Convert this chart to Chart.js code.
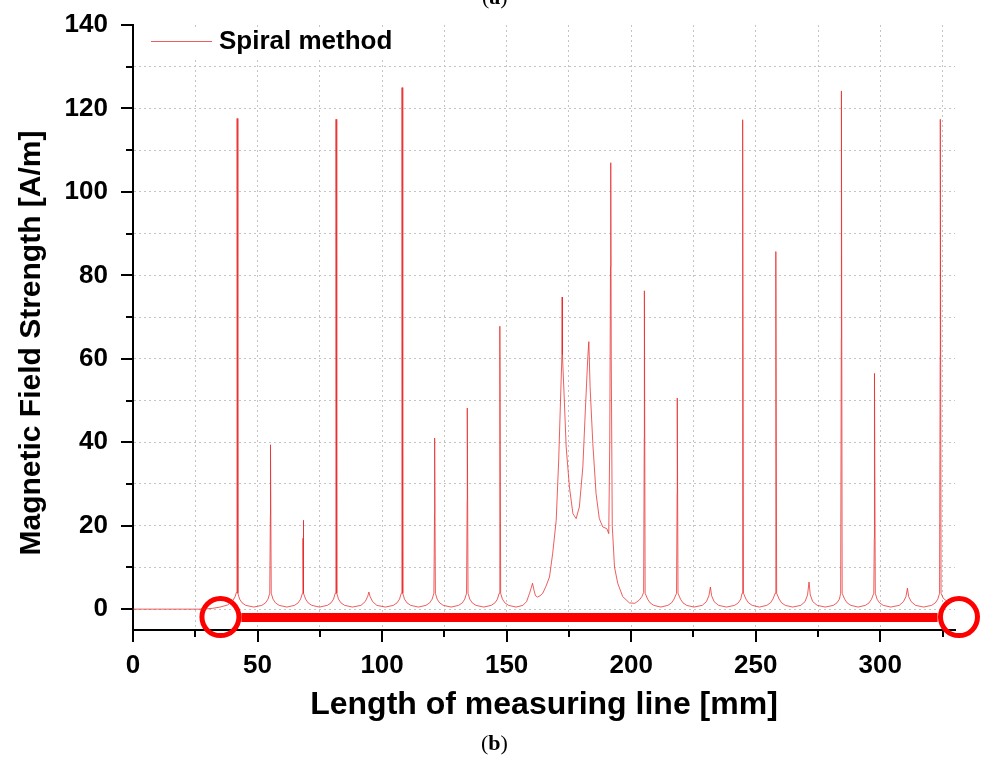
<!DOCTYPE html>
<html lang="en">
<head>
    <meta charset="UTF-8">
    <title>Spiral method - Magnetic Field Strength</title>
    <script src="https://cdn.jsdelivr.net/npm/chart.js"></script>
    <style>
        body { margin: 0; background: #ffffff; }
        .wrap { position: relative; width: 986px; height: 763px; overflow: hidden; }
        .panel { position: absolute; font-family: "Liberation Serif", "DejaVu Serif", serif; font-size: 22px; color: #000; }
        .panel b { font-weight: bold; }
        #panelA { left: 482px; top: -16px; }
        #panelB { left: 481px; top: 730px; }
        #yTitle {
            position: absolute; left: -220px; top: 325px; width: 500px; height: 36px; line-height: 36px;
            text-align: center; transform: rotate(-90deg); transform-origin: 250px 18px;
            font-family: Arial, "Liberation Sans", sans-serif; font-weight: bold; font-size: 30px; color: #000;
            white-space: nowrap;
        }
    </style>
</head>
<body>
    <div class="wrap">
        <canvas id="fieldChart" width="986" height="763"></canvas>
        <div id="yTitle">Magnetic Field Strength [A/m]</div>
        <div id="panelA" class="panel">(<b>a</b>)</div>
        <div id="panelB" class="panel">(<b>b</b>)</div>
    </div>

    <script>
        const lengthMm = [
            0, 10, 20, 28, 32, 35, 38, 40, 41, 41.5,
            41.75, 41.8, 42.1,
            42.8, 43.8, 45.3, 48.5, 51.7, 53.2, 54.2, 54.9,
            55.15, 55.2, 55.5,
            56.2, 57.2, 58.7, 61.8, 64.8, 66.3, 67.3, 68.0,
            68.2, 68.25, 68.3, 68.6,
            69.3, 70.3, 71.8, 74.9, 78.0, 79.5, 80.5, 81.2,
            81.45, 81.5, 81.8,
            82.5, 83.5, 85.0, 88.1, 91.5, 93.2, 94.2, 94.7, 95.2, 96.2, 97.9, 101.3, 104.5, 106.0, 107.0, 107.7,
            107.95, 108.0, 108.3,
            109.0, 110.0, 111.5, 114.6, 117.6, 119.1, 120.1, 120.8,
            121.05, 121.1, 121.4,
            122.1, 123.1, 124.6, 127.7, 130.7, 132.2, 133.2, 133.9,
            134.15, 134.2, 134.5,
            135.2, 136.2, 137.7, 140.8, 143.8, 145.3, 146.3, 147.0,
            147.25, 147.3, 147.6,
            148.3, 149.3, 150.8, 153.8, 156.5, 158.0, 159.2, 159.8, 160.4, 161.0,
            161.6, 162.4, 163.4, 164.5, 165.8, 167.2, 168.5, 169.9, 170.9, 171.6,
            172.2, 172.3, 172.4, 173.2, 173.9, 175.2, 176.6, 177.9, 179.2, 180.6,
            181.6, 182.6, 183.0, 183.5, 184.6, 185.9, 187.2, 188.6, 190.2, 191.0,
            191.4, 191.7, 191.8, 192.0, 192.4,
            193.3, 194.6, 196.6, 199.3, 201.5, 203.3, 204.3, 205.0,
            205.25, 205.3, 205.6,
            206.6, 207.6, 209.1, 211.9, 214.7, 216.2, 217.2, 218.2,
            218.45, 218.5, 218.8,
            219.8, 220.8, 222.3, 225.2, 228.5, 230.2, 231.2, 231.8, 232.3, 233.3, 235.1, 238.3, 241.5, 243.0, 244.0, 244.5,
            244.7, 244.75, 244.78, 244.8, 245.1,
            246.1, 247.1, 248.6, 251.5, 254.4, 255.9, 256.9, 257.8,
            258.05, 258.1, 258.4,
            259.4, 260.4, 261.9, 264.8, 268.1, 269.8, 270.8, 271.4, 271.9, 272.9, 274.7, 277.9, 281.1, 282.6, 283.6, 284.1,
            284.35, 284.4, 284.7,
            285.7, 286.7, 288.2, 291.1, 294.0, 295.5, 296.5, 297.4,
            297.6, 297.65, 297.7, 298.0,
            298.7, 299.7, 301.2, 304.2, 307.6, 309.3, 310.3, 310.9, 311.4, 312.4, 314.2, 317.4, 320.6, 322.1, 323.1, 323.8,
            324.05, 324.1, 324.4,
            325.3, 326.5, 327.8, 328.5
        ];
        const fieldAm = [
            0, 0, 0, 0, 0.2, 0.5, 1.0, 2.0, 3.0, 4.0,
            61.4, 117.6, 3.8,
            2.4, 1.5, 0.9, 0.5, 0.9, 1.5, 2.4, 3.8,
            22.5, 39.4, 3.8,
            2.4, 1.5, 0.9, 0.5, 0.9, 1.5, 2.4, 3.8,
            13.7, 17.0, 21.3, 3.8,
            2.4, 1.5, 0.9, 0.5, 0.9, 1.5, 2.4, 3.8,
            61.4, 117.4, 3.8,
            2.4, 1.5, 0.9, 0.5, 0.9, 1.8, 3.0, 4.1, 3.0, 1.8, 0.9, 0.5, 0.9, 1.5, 2.4, 3.8,
            64.7, 125.0, 3.8,
            2.4, 1.5, 0.9, 0.5, 0.9, 1.5, 2.4, 3.8,
            23.0, 41.0, 3.8,
            2.4, 1.5, 0.9, 0.5, 0.9, 1.5, 2.4, 3.8,
            26.1, 48.2, 3.8,
            2.4, 1.5, 0.9, 0.5, 0.9, 1.5, 2.4, 3.8,
            35.7, 67.8, 3.8,
            2.4, 1.5, 0.9, 0.5, 0.9, 1.8, 3.8, 5.0, 6.2, 4.5,
            3.2, 2.9, 3.2, 3.8, 5.5, 7.7, 13.4, 21.3, 35.7, 49.4,
            61.0, 74.8, 61.0, 49.4, 38.9, 29.3, 22.9, 21.7, 24.5, 34.1,
            47.7, 60.5, 64.1, 53.3, 39.7, 27.7, 21.7, 19.7, 19.3, 18.1,
            40.0, 82.0, 107.0, 60.0, 20.0,
            10.1, 6.2, 3.0, 1.5, 1.4, 2.2, 3.0, 4.0,
            41.0, 76.3, 3.8,
            2.4, 1.5, 0.9, 0.5, 0.9, 1.5, 2.4, 3.8,
            27.8, 50.6, 3.8,
            2.4, 1.5, 0.9, 0.5, 0.9, 1.8, 3.2, 5.3, 3.2, 1.8, 0.9, 0.5, 0.9, 1.5, 2.4, 3.8,
            32.8, 61.4, 89.0, 117.3, 3.8,
            2.4, 1.5, 0.9, 0.5, 0.9, 1.5, 2.4, 3.8,
            44.7, 85.7, 3.8,
            2.4, 1.5, 0.9, 0.5, 0.9, 1.8, 3.4, 6.5, 3.4, 1.8, 0.9, 0.5, 0.9, 1.5, 2.4, 3.8,
            64.7, 124.2, 3.8,
            2.4, 1.5, 0.9, 0.5, 0.9, 1.5, 2.4, 3.8,
            17.0, 43.4, 56.5, 3.8,
            2.4, 1.5, 0.9, 0.5, 0.9, 1.8, 3.0, 5.0, 3.0, 1.8, 0.9, 0.5, 0.9, 1.5, 2.4, 3.8,
            60.7, 117.4, 3.8,
            2.6, 2.0, 1.8, 1.8
        ];

        // red markup under the curve: bar between two rings
        const markLineX = [43.5, 323];
        const markLineY = [-2, -2];
        const markRingX = [35.1, 331.6];
        const markRingY = [-1.9, -1.9];

        const xTickValues = [0, 25, 50, 75, 100, 125, 150, 175, 200, 225, 250, 275, 300, 325];
        const yTickValues = [0, 10, 20, 30, 40, 50, 60, 70, 80, 90, 100, 110, 120, 130, 140];

        const seriesLabel = 'Spiral method';
        const lineColor = 'rgba(232, 40, 40, 0.75)';
        const markColor = '#ff0000';
        const font = 'Arial, "Liberation Sans", sans-serif';

        const toPoints = (xs, ys) => xs.map((x, i) => ({ x: x, y: ys[i] }));

        // minor/major tick marks drawn outside the axes
        const tickMarks = {
            id: 'tickMarks',
            beforeDatasetsDraw(chart) {
                const { ctx, scales: { x, y } } = chart;
                ctx.save();
                ctx.strokeStyle = '#000';
                ctx.lineWidth = 2;
                ctx.beginPath();
                x.ticks.forEach(t => {
                    const px = Math.round(x.getPixelForValue(t.value));
                    const len = t.value % 50 === 0 ? 12 : 7;
                    ctx.moveTo(px, x.top);
                    ctx.lineTo(px, x.top + len);
                });
                y.ticks.forEach(t => {
                    const py = Math.round(y.getPixelForValue(t.value));
                    const len = t.value % 20 === 0 ? 12 : 7;
                    ctx.moveTo(y.right, py);
                    ctx.lineTo(y.right - len, py);
                });
                ctx.stroke();
                ctx.restore();
            }
        };

        // legend box in the top-left corner of the plot
        const insideLegend = {
            id: 'insideLegend',
            beforeDatasetsDraw(chart) {
                const { ctx, chartArea } = chart;
                const ds = chart.data.datasets[0];
                ctx.save();
                ctx.fillStyle = '#ffffff';
                ctx.fillRect(chartArea.left + 3, chartArea.top + 2, 284, 33);
                ctx.strokeStyle = ds.borderColor;
                ctx.lineWidth = 1;
                ctx.beginPath();
                ctx.moveTo(chartArea.left + 18, chartArea.top + 16.5);
                ctx.lineTo(chartArea.left + 79, chartArea.top + 16.5);
                ctx.stroke();
                ctx.fillStyle = '#000';
                ctx.font = 'bold 26px ' + font;
                ctx.textBaseline = 'alphabetic';
                ctx.fillText(ds.label, chartArea.left + 86, chartArea.top + 24);
                ctx.restore();
            }
        };

        const ctx = document.getElementById('fieldChart').getContext('2d');
        const fieldChart = new Chart(ctx, {
            type: 'line',
            data: {
                datasets: [{
                    label: seriesLabel,
                    data: toPoints(lengthMm, fieldAm),
                    borderColor: lineColor,
                    borderWidth: 1,
                    pointRadius: 0,
                    tension: 0,
                    fill: false
                }, {
                    label: 'mark line',
                    data: toPoints(markLineX, markLineY),
                    borderColor: markColor,
                    borderWidth: 9,
                    pointRadius: 0,
                    clip: false
                }, {
                    label: 'mark rings',
                    data: toPoints(markRingX, markRingY),
                    showLine: false,
                    borderColor: markColor,
                    backgroundColor: 'transparent',
                    pointRadius: 18.5,
                    pointBorderWidth: 5,
                    pointBackgroundColor: 'transparent',
                    pointBorderColor: markColor,
                    clip: false
                }]
            },
            options: {
                responsive: false,
                animation: false,
                devicePixelRatio: 1,
                layout: { padding: { top: 25, right: 31, left: 0, bottom: 0 } },
                plugins: {
                    legend: { display: false },
                    tooltip: { enabled: false }
                },
                scales: {
                    x: {
                        type: 'linear',
                        min: 0,
                        max: 330,
                        afterBuildTicks: scale => { scale.ticks = xTickValues.map(v => ({ value: v })); },
                        afterFit: scale => {
                            scale.height = 133;
                            scale.paddingLeft = 0;
                            scale.paddingRight = 0;
                        },
                        grid: {
                            drawTicks: false,
                            lineWidth: 1,
                            color: c => (c.tick && c.tick.value === 0) ? 'transparent' : '#c4c4c4'
                        },
                        border: { display: true, color: '#000', width: 2, dash: [2, 3] },
                        ticks: {
                            padding: 20,
                            color: '#000',
                            font: { family: font, size: 26, weight: 'bold' },
                            maxRotation: 0,
                            autoSkip: false,
                            callback: v => (v % 50 === 0 ? String(v) : '')
                        },
                        title: {
                            display: true,
                            text: 'Length of measuring line [mm]',
                            color: '#000',
                            font: { family: font, size: 32, weight: 'bold' },
                            padding: { top: 0, bottom: 39 }
                        }
                    },
                    y: {
                        type: 'linear',
                        min: -5,
                        max: 140,
                        afterBuildTicks: scale => { scale.ticks = yTickValues.map(v => ({ value: v })); },
                        afterFit: scale => {
                            scale.width = 133;
                            scale.paddingTop = 0;
                            scale.paddingBottom = 0;
                        },
                        grid: {
                            drawTicks: false,
                            lineWidth: 1,
                            color: c => (c.tick && c.tick.value === 140) ? 'transparent' : '#c4c4c4'
                        },
                        border: { display: true, color: '#000', width: 2, dash: [2, 3] },
                        ticks: {
                            padding: 25,
                            color: '#000',
                            font: { family: font, size: 26, weight: 'bold' },
                            autoSkip: false,
                            callback: v => (v % 20 === 0 ? String(v) : '')
                        },
                        title: { display: false }
                    }
                }
            },
            plugins: [tickMarks, insideLegend]
        });
    </script>
</body>
</html>
